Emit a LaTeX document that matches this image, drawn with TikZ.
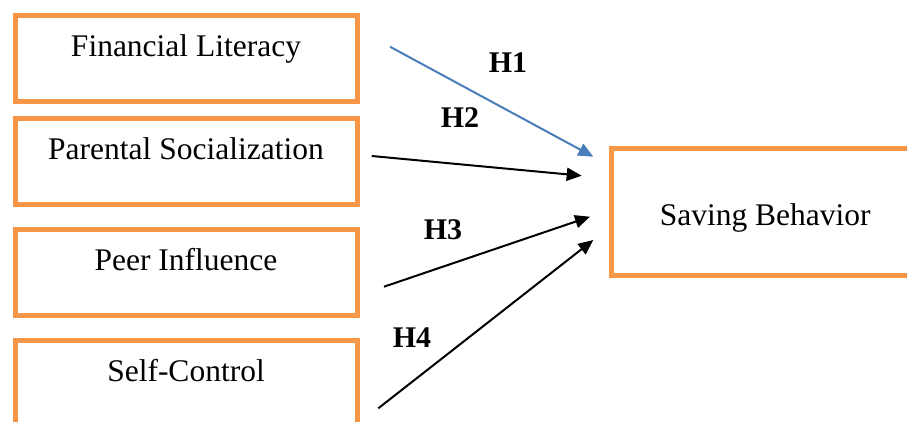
\documentclass[tikz,border=0pt]{standalone}
\usepackage{fontspec}
\setmainfont{Liberation Serif}
\usetikzlibrary{arrows.meta,positioning}
\definecolor{BoxOrange}{RGB}{247,150,70}
\definecolor{PathBlue}{RGB}{74,126,187}

\begin{document}
\begin{tikzpicture}[x=1pt, y=-1pt,
    factor/.style={draw=BoxOrange, line width=5pt, rectangle, anchor=north west,
      minimum width=342pt, minimum height=86pt, inner sep=0pt,
      text height=41.5pt, text depth=44.5pt, font=\fontsize{31.5}{36}\selectfont},
    outcome/.style={draw=BoxOrange, line width=5pt, rectangle, anchor=north west,
      minimum width=307pt, minimum height=126.7pt, inner sep=0pt,
      text height=77.2pt, text depth=49.5pt, font=\fontsize{31.5}{36}\selectfont},
    hyp/.style={font=\fontsize{30}{34}\selectfont\bfseries, inner sep=0pt},
    path/.style={line width=2pt, -{Triangle[length=15pt,width=13pt]}}]
  \useasboundingbox (0,0) rectangle (907,421);
  \clip (0,0) rectangle (907,421);
  % constructs
  \node[factor] (fl) at (12.5,12.5) {Financial Literacy};
  \node[factor] (ps) at (12.5,115.5) {Parental Socialization};
  \node[factor] (pi) at (12.5,226.5) {Peer Influence};
  \node[factor] (sc) at (12.5,337.5) {Self-Control};
  \node[outcome] (sb) at (609.2,145.8) {Saving Behavior};
  % arrow ends
  \coordinate (fl-out) at (390,46.7);   \coordinate (sb-in1) at (593.3,156.7);
  \coordinate (ps-out) at (371.7,156);  \coordinate (sb-in2) at (581.7,175.7);
  \coordinate (pi-out) at (384,286.7);  \coordinate (sb-in3) at (590,216.7);
  \coordinate (sc-out) at (378.3,408.3); \coordinate (sb-in4) at (593.3,240);
  \draw[path, PathBlue] (fl-out) -- (sb-in1);
  \draw[path] (ps-out) -- (sb-in2);
  \draw[path] (pi-out) -- (sb-in3);
  \draw[path] (sc-out) -- (sb-in4);
  % hypotheses
  \node[hyp] (h1) at (508,63) {H1};
  \node[hyp] (h2) at (460,118) {H2};
  \node[hyp] (h3) at (443,230) {H3};
  \node[hyp] (h4) at (412,338) {H4};
\end{tikzpicture}
\end{document}
